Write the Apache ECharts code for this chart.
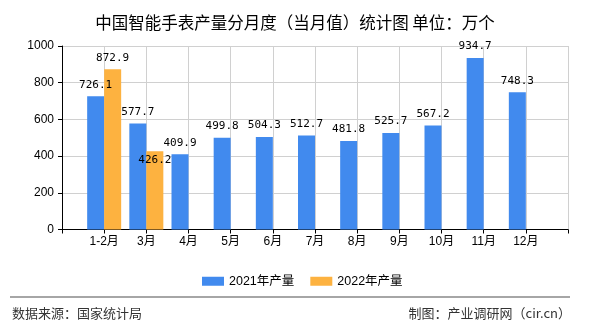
<!DOCTYPE html>
<html>
<head>
<meta charset="utf-8">
<script src="https://cdn.jsdelivr.net/npm/echarts@6/dist/echarts.min.js"></script>
<style>
html,body{margin:0;padding:0;background:#fff;}
#c{width:590px;height:330px;}
</style>
</head>
<body>
<div id="c"></div>
<script>
var categories = ['1-2月','3月','4月','5月','6月','7月','8月','9月','10月','11月','12月'];
var values2021 = [726.1, 577.7, 409.9, 499.8, 504.3, 512.7, 481.8, 525.7, 567.2, 934.7, 748.3];
var values2022 = [872.9, 426.2, null, null, null, null, null, null, null, null, null];
var seriesNames = ['2021年产量', '2022年产量'];
var yTicks = [0, 200, 400, 600, 800, 1000];

var FONT = '"Liberation Sans","Noto Sans CJK SC",sans-serif';
var MONO = '"DejaVu Sans Mono","Liberation Mono",monospace';

var axisCats = [''].concat(categories).concat(['']);
function pad(arr){ return [null].concat(arr).concat([null]); }

var d2022 = pad(values2022).map(function(v, i){
  if (v === null) return null;
  // second 2022 value label sits inside the bar top in the reference
  if (i === 2) return {value: v, label: {position: 'insideTop', distance: 3}};
  return v;
});

var chart = echarts.init(document.getElementById('c'));
chart.setOption({
  animation: false,
  title: {
    text: '中国智能手表产量分月度（当月值）统计图 单位：万个',
    left: 'center', top: 9,
    textStyle: {fontSize: 16.5, fontWeight: 'normal', color: '#000', fontFamily: '"Noto Sans CJK SC",sans-serif'}
  },
  legend: {
    left: 197, top: 270,
    itemWidth: 22, itemHeight: 9, itemGap: 16,
    icon: 'rect',
    textStyle: {fontSize: 12.5, color: '#000', fontFamily: FONT},
    data: seriesNames
  },
  grid: {left: 62, right: 22, top: 46, bottom: 100.5},
  xAxis: {
    type: 'category',
    data: axisCats,
    boundaryGap: false,
    axisLine: {lineStyle: {color: '#000', width: 1}},
    axisTick: {show: true, length: 4, lineStyle: {color: '#000'}},
    axisLabel: {interval: 0, color: '#000', fontSize: 12, margin: 6, fontFamily: FONT},
    splitLine: {show: true, interval: 0, lineStyle: {color: '#d0d0d0'}}
  },
  yAxis: {
    type: 'value',
    min: yTicks[0], max: yTicks[yTicks.length-1], interval: 200,
    axisLine: {show: true, lineStyle: {color: '#000', width: 1}},
    axisTick: {show: true, length: 4, lineStyle: {color: '#000'}},
    axisLabel: {color: '#000', fontSize: 12, margin: 8, fontFamily: FONT,
      formatter: function(v){ return String(v); }},
    splitLine: {show: true, lineStyle: {color: '#d0d0d0'}}
  },
  series: [
    {
      name: seriesNames[0], type: 'bar', data: pad(values2021),
      barWidth: 17, barGap: '0%',
      itemStyle: {color: '#418AEE'},
      label: {show: true, position: 'top', distance: 6, color: '#000', fontSize: 11, fontFamily: MONO}
    },
    {
      name: seriesNames[1], type: 'bar', data: d2022,
      barWidth: 17, barGap: '0%',
      itemStyle: {color: '#FDB240'},
      label: {show: true, position: 'top', distance: 6, color: '#000', fontSize: 11, fontFamily: MONO}
    }
  ],
  graphic: [
    {type: 'line', shape: {x1: 10, y1: 297, x2: 570, y2: 297}, style: {stroke: '#888', lineWidth: 1.5}},
    {type: 'text', left: 12, top: 307, style: {text: '数据来源：国家统计局', fill: '#333', font: '13px "Noto Sans CJK SC",sans-serif'}},
    {type: 'text', right: 19, top: 307, style: {text: '制图：产业调研网（cir.cn）', fill: '#333', font: '13px "Noto Sans CJK SC",sans-serif'}}
  ]
});
</script>
</body>
</html>
